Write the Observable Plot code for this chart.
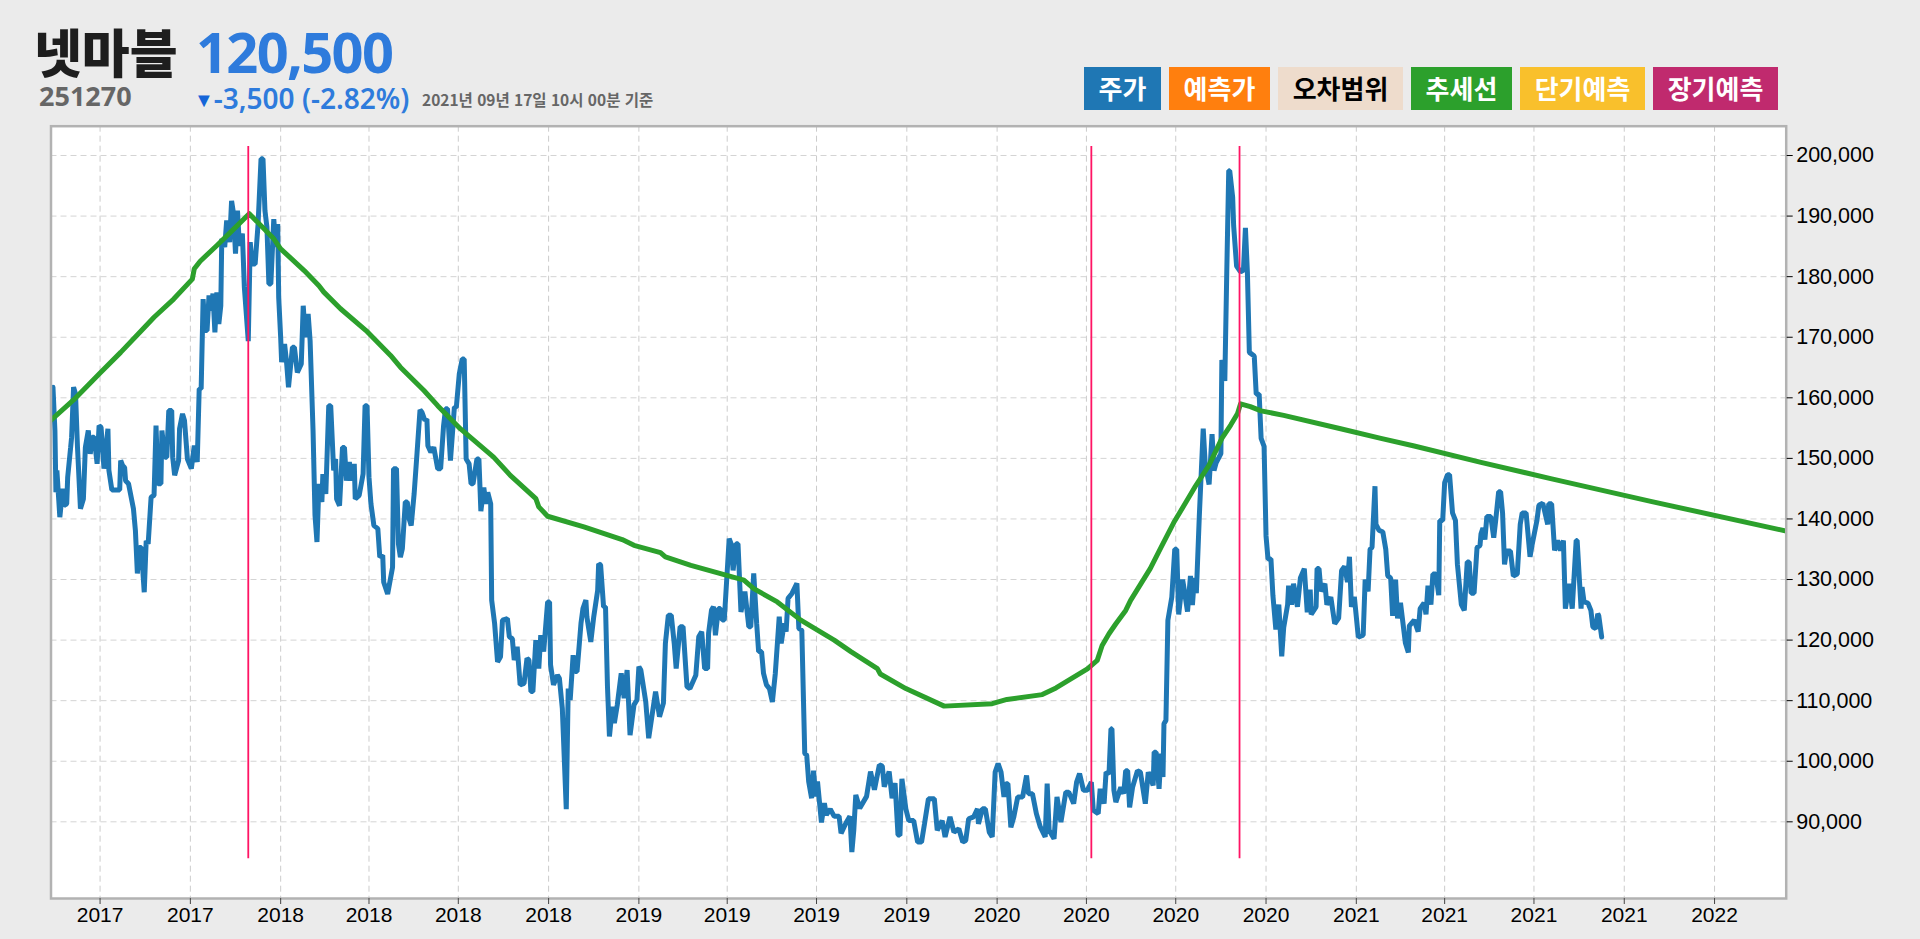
<!DOCTYPE html>
<html lang="ko">
<head>
<meta charset="utf-8">
<title>넷마블</title>
<script src="https://cdn.jsdelivr.net/npm/d3@7"></script>
<script src="https://cdn.jsdelivr.net/npm/@observablehq/plot@0.6"></script>
<style>
html,body{margin:0;padding:0;background:#ebebeb;overflow:hidden}
#head{position:relative;width:1920px;height:120px;font-family:"Noto Sans CJK KR","Noto Sans",sans-serif}
#head div{position:absolute;white-space:nowrap;line-height:1}
#name{left:34px;top:25px;font-size:52px;font-weight:900;color:#1e1e1e;letter-spacing:0}
#code{left:39px;top:82px;font-size:27px;font-weight:700;color:#666;font-family:"Noto Sans",sans-serif}
#price{left:196px;top:23px;font-size:56px;font-weight:700;color:#2e7bdc;font-family:"Noto Sans",sans-serif;letter-spacing:-1.7px}
#delta{left:194px;top:84px;font-size:28px;font-weight:600;color:#2e7bdc;font-family:"Noto Sans",sans-serif}
#delta span{color:#1565d8;font-size:20px;vertical-align:2px}
#stamp{left:422px;top:92px;font-size:15.5px;font-weight:700;color:#666}
.btn{top:67px;height:43px;line-height:42px!important;text-align:center;font-size:26px;font-weight:700;color:#fff}
#chart{display:block}
</style>
</head>
<body>
<div id="head">
  <div id="name"></div><div id="code"></div><div id="price"></div>
  <div id="delta"></div><div id="stamp"></div>
</div>
<div id="chart"></div>
<script>
const stockName = "넷마블";
const stockCode = "251270";
const currentPrice = "120,500";
const priceChange = "-3,500 (-2.82%)";
const stampText = "2021년 09년 17일 10시 00분 기준";
const legendLabels = ["주가","예측가","오차범위","추세선","단기예측","장기예측"];
const legendColors = ["#1f77b4","#ff7f0e","#eedccc","#2ca02c","#f9c02c","#c02a6e"];
const legendText = ["#fff","#fff","#000","#fff","#fff","#fff"];
const legendLeft = [1084,1169,1278,1411,1520,1653];
const legendWidth = [77,101,125,101,125,125];

// days since the first trading day, share price in thousands of won
const startDate = "2017-05-12";
const endDay = 1768;
const pricePoints = [[2,161.75],[4,154.6],[5,144.4],[6,148],[9,140.3],[12,145],[13,142.2],[16,142.5],[17,146.9],[20,151.8],[21,153.5],[23,161.75],[25,160.65],[27,151.8],[30,141.7],[33,143.3],[35,151.8],[38,154.6],[40,150.75],[42,153.5],[44,153.5],[47,149.1],[49,155.4],[51,155.15],[54,148.3],[58,154.9],[59,148],[62,144.8],[70,144.8],[71,149.65],[73,148.8],[75,148.5],[76,146.3],[79,145.8],[84,141.7],[86,138.1],[88,131],[90,135.3],[92,135.3],[95,127.9],[97,136.4],[99,135.9],[102,143.6],[105,143.9],[107,155.4],[109,145.8],[112,145.8],[113,154.6],[116,150.2],[118,150.2],[120,157.9],[123,157.9],[124,150.2],[126,147.2],[130,149.65],[131,154.9],[134,157.35],[136,156.25],[139,149.9],[143,148.3],[146,152.1],[149,149.4],[151,161.5],[153,161.5],[155,176.3],[157,171.1],[159,171.1],[161,176.9],[163,174.4],[165,177.2],[167,170.8],[169,177.4],[171,172.2],[173,175.2],[174,186.25],[177,184.9],[179,189.3],[182,185.7],[184,192.5],[186,190.4],[188,183.8],[190,190.9],[192,185.1],[195,187.1],[197,178.3],[201,169.35],[203,185.7],[205,182.1],[208,182.1],[211,188.7],[214,199.45],[216,199.45],[218,190.9],[220,188.2],[222,178.8],[224,178.8],[227,189.5],[229,184.9],[231,188.7],[232,176.6],[234,170],[235,165.9],[238,168.9],[240,165.9],[242,161.75],[246,168.35],[248,168.35],[251,164.2],[255,165.6],[257,175.2],[259,170],[262,173.85],[264,169.45],[267,154.6],[269,140.6],[271,136.2],[273,145.8],[276,142.8],[277,147.4],[280,144.15],[283,158.7],[285,158.7],[288,148],[290,149.9],[291,143.3],[294,142.2],[297,151.8],[299,151.8],[301,146.35],[304,149.4],[306,146.35],[309,149.1],[310,143.3],[314,143.9],[318,147.45],[320,158.7],[322,158.7],[324,146.9],[326,142.5],[329,138.9],[333,138.4],[335,133.7],[338,134],[339,129.55],[343,127.6],[348,132],[349,148.3],[352,148.3],[354,135.9],[356,133.7],[358,135.1],[361,142.8],[363,142.8],[365,140],[367,138.9],[370,144.15],[373,151],[376,158],[378,157.6],[381,156.25],[383,156.5],[384,152.1],[387,151],[390,151.85],[394,148.3],[397,148.3],[400,155.4],[402,158.2],[404,158.2],[407,149.65],[411,158.45],[413,158.45],[416,163.95],[419,166.4],[421,166.4],[423,149.9],[426,149.1],[428,145.8],[430,145.8],[434,149.9],[436,149.9],[438,141.3],[441,145.2],[443,142.5],[445,144.4],[448,142.5],[449,126.6],[452,122.75],[455,116.4],[458,117.25],[460,123.3],[465,123.55],[467,120.55],[470,120.25],[472,116.7],[475,118.9],[478,112.6],[482,112.85],[485,117],[487,116.7],[489,111.5],[491,111.5],[494,120],[497,115.3],[499,120.8],[502,118.1],[506,126.3],[508,126.3],[509,115.9],[512,112.6],[516,114.2],[518,113.7],[521,108.7],[525,92.1],[527,112],[529,110.1],[532,117.5],[534,114.8],[536,114.8],[540,122.75],[542,125.2],[545,126.6],[546,123.85],[550,119.7],[553,123.85],[557,128.2],[558,132.6],[560,132.4],[563,125.5],[565,125.5],[567,112.3],[569,104.1],[572,109],[574,106.3],[577,109.3],[581,114.5],[584,110.4],[587,115.05],[590,104.3],[594,109.3],[597,110.1],[599,115.6],[601,115.05],[606,109.8],[609,103.8],[612,107.1],[616,111.5],[620,107.35],[624,109.6],[626,119.45],[629,124.1],[632,124.1],[635,119.45],[637,115.3],[641,122.2],[644,122.2],[648,112.3],[651,112],[657,114.2],[660,120.55],[663,121.4],[666,115.3],[669,115.3],[670,121.1],[673,124.95],[675,125.5],[677,120.8],[680,125.2],[682,125.2],[684,123.3],[686,123.3],[691,136.75],[693,135.9],[695,131.5],[698,135.9],[700,135.9],[703,124.65],[707,128],[711,122.2],[713,122.2],[716,131],[719,122.75],[721,118.1],[724,118.1],[726,114.5],[729,112.6],[732,112],[735,109.8],[738,114.5],[742,123.85],[744,119.45],[747,122.75],[749,121.4],[751,126.9],[755,127.7],[760,129.35],[762,121.9],[765,121.65],[768,101.3],[770,101],[772,96.65],[775,93.9],[777,98.45],[779,94.2],[781,96.65],[785,89.9],[788,93.1],[790,91.15],[794,92.1],[798,90.9],[803,90.9],[805,88.1],[810,89.8],[814,90.9],[816,85],[818,88.7],[820,94.45],[824,92.25],[831,94.2],[835,98.3],[839,95.3],[844,99.4],[847,99.2],[849,95.8],[854,98.3],[857,93.9],[860,96.4],[863,87.85],[865,87.75],[867,97.1],[871,92.15],[874,90.2],[879,90.2],[883,86.65],[887,86.65],[890,89.65],[894,93.8],[900,93.8],[903,88.6],[908,90.2],[911,87.5],[916,90.8],[920,88.3],[925,88.85],[929,86.65],[932,86.9],[935,90.5],[940,90.8],[944,92.15],[945,89.65],[949,92.15],[952,92.15],[956,88.3],[959,87.5],[962,98.2],[965,99.6],[968,98.2],[971,94.1],[973,96.3],[975,96.3],[978,89.1],[981,90.8],[985,94.1],[990,94.1],[994,97.65],[996,94.65],[1000,94.65],[1004,91.35],[1008,89.15],[1013,87.5],[1015,96.3],[1017,88.6],[1022,87.2],[1025,94.1],[1029,89.95],[1034,94.9],[1037,94.9],[1042,93],[1045,96.55],[1048,97.95],[1052,95.2],[1056,95.2],[1060,96.55],[1062,91.9],[1067,91.35],[1069,95.45],[1073,93],[1075,98.2],[1078,97.9],[1080,105.35],[1081,105.35],[1083,95.2],[1085,93.25],[1090,95.7],[1093,94.65],[1095,98.45],[1097,98.45],[1099,92.4],[1102,95.7],[1107,98.45],[1110,98.2],[1115,93],[1118,98.2],[1123,96],[1124,101.5],[1126,101.5],[1129,95.45],[1131,101.25],[1133,97.4],[1134,106.2],[1136,106.75],[1138,123.25],[1142,127.1],[1145,135],[1147,135],[1149,124.25],[1153,130],[1154,129],[1158,124.7],[1161,130.6],[1163,125.8],[1165,130.25],[1167,127.75],[1170,140.4],[1174,154.9],[1176,149.2],[1180,145.7],[1183,154],[1185,148],[1187,149.2],[1192,150.8],[1193,166.25],[1196,162.8],[1198,180.8],[1200,197.5],[1201,197.5],[1204,193.1],[1205,188.4],[1208,181.75],[1212,180.8],[1215,181.1],[1217,188.05],[1219,180.8],[1221,167.5],[1226,166.9],[1228,160.6],[1231,160.6],[1233,153.3],[1236,152],[1238,137.2],[1240,133.4],[1243,133.4],[1245,127.4],[1248,121.75],[1251,125.85],[1254,117.3],[1256,122.05],[1260,125.85],[1261,129],[1264,125.85],[1266,129.3],[1270,125.5],[1273,130.25],[1277,131.8],[1280,124.6],[1283,128.35],[1284,124.25],[1289,125.5],[1290,131.8],[1292,131.8],[1294,128.05],[1298,129.3],[1300,125.85],[1304,127.1],[1308,122.7],[1312,123.65],[1315,131.5],[1318,132.15],[1321,129.6],[1323,133.75],[1325,125.5],[1328,127.1],[1332,120.5],[1337,120.8],[1339,130],[1342,128.05],[1344,135],[1346,135.3],[1349,145.4],[1350,139.1],[1353,138.15],[1357,137.85],[1360,135],[1362,130.6],[1365,130.25],[1367,124],[1370,130],[1372,123.6],[1375,126.15],[1380,119.5],[1383,117.95],[1384,122.35],[1389,123.3],[1393,121.4],[1395,125.2],[1399,126.15],[1401,124.25],[1403,129],[1406,125.85],[1408,130.9],[1411,130.9],[1414,127.4],[1415,139.75],[1418,139.75],[1420,146],[1423,147.3],[1425,147.3],[1428,141],[1431,139.75],[1433,132.5],[1437,125.85],[1440,124.9],[1443,132.9],[1445,132.9],[1447,127.75],[1450,127.75],[1453,135.3],[1456,135.6],[1457,137.5],[1459,138.5],[1461,136.6],[1463,140.4],[1467,140.4],[1470,136.9],[1472,139.75],[1475,144.5],[1477,144.5],[1479,141],[1481,132.5],[1483,134.7],[1487,134.7],[1490,130.6],[1494,130.9],[1497,139.1],[1499,141],[1503,141],[1507,133.75],[1509,135.65],[1514,139.75],[1516,142.25],[1520,142.6],[1525,139.1],[1526,142.5],[1529,142.5],[1532,134.8],[1535,136.45],[1538,134.8],[1541,136.45],[1543,125.2],[1547,129.3],[1550,125.2],[1554,136.45],[1555,136.45],[1559,125.2],[1560,128.75],[1562,126.3],[1566,126.1],[1569,124.9],[1571,122.15],[1574,121.9],[1576,124.35],[1577,124.05],[1580,120.5]];
const trendPoints = [[0,156.3],[23,159.65],[50,164.1],[71,167.5],[91,170.9],[105,173.3],[125,176.3],[144,179.6],[146,181.3],[152,182.55],[169,185.15],[183,187.35],[202,190.4],[227,186.25],[234,184.6],[258,181],[273,178.5],[278,177.45],[295,174.7],[321,171.1],[346,167],[356,165.05],[380,161.2],[394,158.7],[417,154.9],[451,150.2],[468,147.2],[494,143.35],[497,142],[506,140.45],[543,138.7],[582,136.6],[594,135.65],[621,134.45],[626,133.75],[652,132.35],[706,129.9],[716,128.5],[740,126.3],[764,123.3],[798,120],[815,118.1],[842,115.3],[845,114.4],[871,112],[910,109.1],[959,109.5],[974,110.2],[1010,111],[1024,112.1],[1056,115.25],[1066,116.65],[1071,119.1],[1078,121.05],[1085,122.7],[1095,124.9],[1100,126.55],[1120,131.8],[1131,135.3],[1144,139.4],[1158,143.2],[1166,145.4],[1180,148.9],[1193,153.3],[1202,155.5],[1209,157.4],[1212,159],[1222,158.55],[1233,157.85],[1256,157.1],[1314,154.9],[1355,153.3],[1389,152.05],[1457,149.35],[1528,146.65],[1630,142.9],[1768,138]];
const markerDays = [201,1060,1211];
const markerLow = 83.9;
const markerHigh = 201.5;
const yDomain = [77.34,204.84];
const yTicks = [90,100,110,120,130,140,150,160,170,180,190,200];
const xTickDates = ["2017-07-01","2017-10-01","2018-01-01","2018-04-01","2018-07-01","2018-10-01","2019-01-01","2019-04-01","2019-07-01","2019-10-01","2020-01-01","2020-04-01","2020-07-01","2020-10-01","2021-01-01","2021-04-01","2021-07-01","2021-10-01","2022-01-01"];

const t0 = new Date(startDate + "T00:00:00Z");
const toDate = d => d3.utcDay.offset(t0, d);

document.getElementById("name").textContent = stockName;
document.getElementById("code").textContent = stockCode;
document.getElementById("price").textContent = currentPrice;
document.getElementById("delta").innerHTML = "<span>▼</span>" + priceChange;
document.getElementById("stamp").textContent = stampText;
const head = document.getElementById("head");
legendLabels.forEach((label,i)=>{
  const b = document.createElement("div");
  b.className = "btn";
  b.textContent = label;
  b.style.left = legendLeft[i]+"px";
  b.style.width = legendWidth[i]+"px";
  b.style.background = legendColors[i];
  b.style.color = legendText[i];
  head.appendChild(b);
});

const price = pricePoints.map(([d,v])=>({date:toDate(d),value:v*1000}));
const trend = trendPoints.map(([d,v])=>({date:toDate(d),value:v*1000}));
const tickDates = xTickDates.map(s=>new Date(s+"T00:00:00Z"));
const tickVals = yTicks.map(v=>v*1000);
const dash = "6 4";

const plot = Plot.plot({
  width:1920, height:819,
  marginLeft:50.5, marginRight:134.3, marginTop:5.7, marginBottom:41,
  style:{background:"transparent",fontFamily:"'Liberation Sans',Arial,sans-serif",fontSize:"21px",color:"#000"},
  x:{type:"utc",domain:[t0,toDate(endDay)]},
  y:{type:"linear",domain:yDomain.map(v=>v*1000)},
  marks:[
    Plot.frame({fill:"#fff",stroke:"none"}),
    Plot.gridX(tickDates,{stroke:"#cccccc",strokeOpacity:1,strokeDasharray:dash,strokeWidth:1}),
    Plot.gridY(tickVals,{stroke:"#d4d4d4",strokeOpacity:1,strokeDasharray:dash,strokeWidth:1}),
    Plot.line(price,{x:"date",y:"value",stroke:legendColors[0],strokeWidth:5,strokeLinejoin:"miter",strokeMiterlimit:1,clip:true}),
    Plot.line(trend,{x:"date",y:"value",stroke:legendColors[3],strokeWidth:5,strokeLinejoin:"round",clip:true}),
    Plot.ruleX(markerDays.map(toDate),{y1:markerLow*1000,y2:markerHigh*1000,stroke:"#ff1464",strokeWidth:1.8}),
    Plot.frame({stroke:"#b2b2b2",strokeWidth:2.5}),
    Plot.axisX({ticks:tickDates,tickFormat:d3.utcFormat("%Y"),tickSize:6,tickPadding:3,fontSize:21,label:null,stroke:"#444"}),
    Plot.axisY({anchor:"right",ticks:tickVals,tickFormat:d3.format(","),tickSize:6,tickPadding:4,fontSize:21.5,label:null})
  ]
});
document.getElementById("chart").appendChild(plot);
</script>
</body>
</html>
